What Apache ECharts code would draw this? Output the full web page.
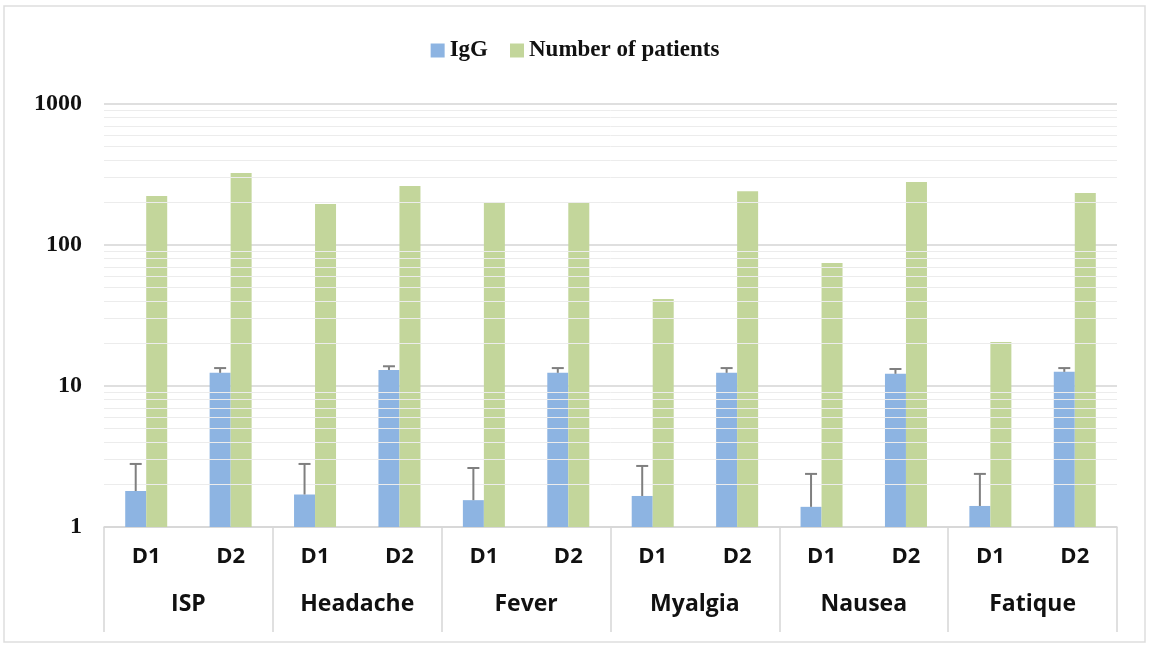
<!DOCTYPE html>
<html>
<head>
<meta charset="utf-8">
<script src="https://cdn.jsdelivr.net/npm/echarts@6/dist/echarts.min.js"></script>
<style>
  html, body { margin: 0; padding: 0; background: #fff; }
  #chart { width: 1150px; height: 646px; }
</style>
</head>
<body>
<div id="chart"></div>
<script>
// sub-categories (one per bar pair) and groups below them
const days = ['D1', 'D2', 'D1', 'D2', 'D1', 'D2', 'D1', 'D2', 'D1', 'D2', 'D1', 'D2'];
const groups = ['ISP', 'Headache', 'Fever', 'Myalgia', 'Nausea', 'Fatique'];

// values (log scale)
const igg = [1.8, 12.4, 1.7, 13.0, 1.55, 12.4, 1.66, 12.4, 1.39, 12.2, 1.41, 12.6];
const iggErrTop = [2.8, 13.4, 2.8, 13.8, 2.62, 13.4, 2.71, 13.4, 2.38, 13.2, 2.38, 13.4];
const patients = [223, 324, 195, 262, 202, 202, 41.4, 241, 74.5, 280, 20.5, 234];

// minor grid values between decades
const minorLines = [2, 3, 4, 5, 6, 7, 8, 9, 20, 30, 40, 50, 60, 70, 80, 90, 200, 300, 400, 500, 600, 700, 800, 900];

const serif = '"Liberation Serif", "DejaVu Serif", serif';
const sans = '"Open Sans", "Liberation Sans", sans-serif';
const barW = 21;

const chart = echarts.init(document.getElementById('chart'));

const option = {
  backgroundColor: '#fff',
  animation: false,
  graphic: [{
    type: 'rect',
    shape: { x: 4, y: 6, width: 1141, height: 636 },
    style: { fill: 'none', stroke: '#dedede', lineWidth: 1.5 },
    silent: true
  }],
  legend: {
    data: ['IgG', 'Number of patients'],
    top: 34,
    left: 'center',
    itemWidth: 14,
    itemHeight: 14,
    itemGap: 22,
    icon: 'rect',
    textStyle: { fontFamily: serif, fontWeight: 'bold', fontSize: 23, color: '#111' }
  },
  grid: { left: 104, right: 33, top: 104, bottom: 119 },
  xAxis: [
    {
      type: 'category',
      data: days,
      position: 'bottom',
      axisLine: { show: true, lineStyle: { color: '#d6d6d6', width: 1.5 } },
      axisTick: { show: false },
      axisLabel: { margin: 19, fontFamily: sans, fontWeight: 'bold', fontSize: 22, color: '#111' }
    },
    {
      type: 'category',
      data: groups,
      position: 'bottom',
      axisLine: { show: false },
      axisTick: { show: true, length: 105, lineStyle: { color: '#d6d6d6', width: 1.5 } },
      axisLabel: { margin: 66, fontFamily: sans, fontWeight: 'bold', fontSize: 23, color: '#111' }
    }
  ],
  yAxis: {
    type: 'log',
    logBase: 10,
    min: 1,
    max: 1000,
    axisLine: { show: false },
    axisTick: { show: false },
    splitLine: { lineStyle: { color: '#d4d4d4', width: 1.5 } },
    axisLabel: {
      margin: 22,
      fontFamily: serif, fontWeight: 'bold', fontSize: 24, color: '#111',
      formatter: v => String(Math.round(v))
    }
  },
  series: [
    {
      // minor gridlines
      type: 'line',
      data: [],
      z: 1,
      silent: true,
      markLine: {
        silent: true,
        symbol: 'none',
        label: { show: false },
        lineStyle: { color: '#ececec', width: 1, type: 'solid' },
        data: minorLines.map(v => ({ yAxis: v }))
      }
    },
    {
      name: 'IgG',
      type: 'bar',
      barWidth: barW,
      barGap: '0%',
      itemStyle: { color: '#8db4e2' },
      data: igg
    },
    {
      name: 'Number of patients',
      type: 'bar',
      barWidth: barW,
      itemStyle: { color: '#c3d69b' },
      data: patients
    },
    {
      // error bars on IgG
      type: 'custom',
      z: 5,
      silent: true,
      data: igg.map((v, i) => [i, iggErrTop[i], v]),
      encode: { x: 0, y: 1 },
      renderItem: function (params, api) {
        const top = api.coord([api.value(0), api.value(1)]);
        const base = api.coord([api.value(0), api.value(2)]);
        const x = top[0] - barW / 2;
        const style = { stroke: '#7f7f7f', lineWidth: 2 };
        return {
          type: 'group',
          children: [
            { type: 'line', shape: { x1: x, y1: base[1], x2: x, y2: top[1] }, style: style },
            { type: 'line', shape: { x1: x - 6, y1: top[1], x2: x + 6, y2: top[1] }, style: style }
          ]
        };
      }
    }
  ]
};

option && chart.setOption(option);
</script>
</body>
</html>
